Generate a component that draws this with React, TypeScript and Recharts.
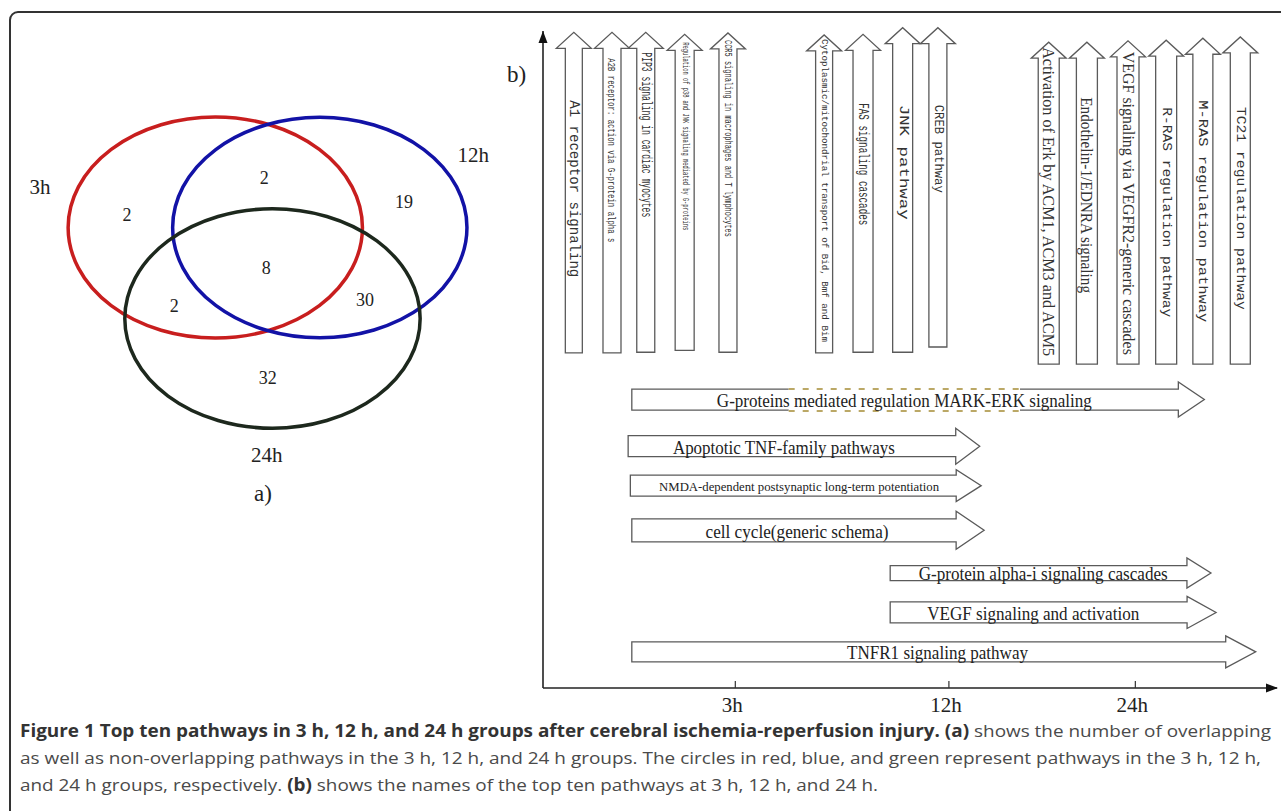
import React from 'react';
import {
  ComposedChart, ScatterChart, Scatter, XAxis, YAxis, ReferenceLine, ReferenceArea, ReferenceDot,
} from 'recharts';

const SERIF = "'Liberation Serif', 'Times New Roman', serif";
const MONO = "'Liberation Mono', monospace";

// ---- a) Venn: sets, drawn as ellipses in a 0..100 box ----
const SET_NAMES = ['3h', '12h', '24h'];
const SET_CX = [41.4, 61.5, 52.4];
const SET_CY = [56.25, 56.25, 38.75];
const SET_RX = [28.3, 28.3, 28.4];
const SET_RY = [21.25, 21.2, 21.1];
const SET_LABEL_X = [7.7, 91.0, 51.3];
const SET_LABEL_Y = [64.0, 70.2, 12.5];
const SET_COLORS = ['#c81e1e', '#1212a6', '#1d281d'];

// region counts and where they sit
const REGIONS = ['3h only', '3h+12h', '12h only', 'all', '3h+24h', '12h+24h', '24h only'];
const REGION_COUNTS = [2, 2, 19, 8, 2, 30, 32];
const REGION_X = [24.4, 50.8, 77.7, 51.2, 33.5, 70.2, 51.5];
const REGION_Y = [58.7, 65.8, 61.2, 48.5, 41.2, 42.3, 27.3];

// ---- b) time line ----
const TIME_TICKS = [26.2, 55.3, 80.7];
const TIME_LABELS = ['3h', '12h', '24h'];

// vertical arrows (pathway columns)
const COLUMN_PATHWAYS = [
  'A1 receptor signaling',
  'A2B receptor: action via G-protein alpha s',
  'PIP3 signaling in cardiac myocytes',
  'Regulation of p38 and JNK signaling mediated by G-proteins',
  'CCR5 signaling in macrophages and T lymphocytes',
  'Cytoplasmic/mitochondrial transport of Bid, Bmf and Bim',
  'FAS signaling cascades',
  'JNK pathway',
  'CREB pathway',
  'Activation of Erk by ACM1, ACM3 and ACM5',
  'Endothelin-1/EDNRA signaling',
  'VEGF signaling via VEGFR2-generic cascades',
  'R-RAS regulation pathway',
  'M-RAS regulation pathway',
  'TC21 regulation pathway',
];
const COLUMN_X = [4.2, 9.4, 14.0, 19.3, 25.2, 38.3, 43.6, 49.0, 53.8, 68.9, 74.1, 79.7, 84.9, 89.9, 95.0];
const COLUMN_FROM = [51.0, 51.0, 51.1, 51.4, 51.1, 51.0, 51.1, 51.1, 51.9, 49.3, 49.3, 49.3, 49.3, 49.3, 49.3];
const COLUMN_TO = [99.8, 99.8, 99.8, 99.5, 99.7, 99.4, 99.5, 100.5, 100.5, 98.3, 98.3, 98.5, 98.6, 98.9, 99.1];

// horizontal arrows (pathway rows)
const ROW_PATHWAYS = [
  'G-proteins mediated regulation MARK-ERK signaling',
  'Apoptotic TNF-family pathways',
  'NMDA-dependent postsynaptic long-term potentiation',
  'cell cycle(generic schema)',
  'G-protein alpha-i signaling cascades',
  'VEGF signaling and activation',
  'TNFR1 signaling pathway',
];
const ROW_FROM = [12.1, 11.6, 11.9, 12.1, 47.3, 47.3, 12.1];
const ROW_TO = [90.1, 59.5, 59.7, 60.1, 91.0, 91.7, 97.1];
const ROW_Y = [43.9, 36.8, 30.8, 24.0, 17.5, 11.5, 5.5];

// label / shape styling, kept apart from the data
const COLUMN_STYLE = [
  { font: MONO, size: 14, offset: 68, length: 177, shaft: 17 },
  { font: MONO, size: 11.5, offset: 26, length: 184, shaft: 18 },
  { font: MONO, size: 14, offset: 20, length: 165, shaft: 18 },
  { font: MONO, size: 9, offset: 8, length: 188, shaft: 19 },
  { font: MONO, size: 11, offset: 7, length: 197, shaft: 18 },
  { font: MONO, size: 9, offset: 4, length: 303, shaft: 17 },
  { font: MONO, size: 15.5, offset: 69, length: 122, shaft: 20 },
  { font: MONO, size: 12.5, offset: 77, length: 115, shaft: 20 },
  { font: MONO, size: 12.5, offset: 77, length: 88, shaft: 18 },
  { font: SERIF, size: 16.5, offset: 5, length: 309, shaft: 21 },
  { font: SERIF, size: 16, offset: 55, length: 196, shaft: 21 },
  { font: SERIF, size: 16, offset: 11, length: 303, shaft: 22 },
  { font: MONO, size: 13.5, offset: 67, length: 210, shaft: 21 },
  { font: MONO, size: 13.5, offset: 62, length: 222, shaft: 20 },
  { font: MONO, size: 13.5, offset: 70, length: 203, shaft: 20 },
];

const ROW_STYLE = [
  { size: 18, length: 375, at: 0.476, shaft: 21, head: 35, headLen: 26, dash: [0.274, 0.678] },
  { size: 19, length: 222, at: 0.443, shaft: 21, head: 36, headLen: 24 },
  { size: 12, length: 280, at: 0.481, shaft: 21, head: 32, headLen: 25 },
  { size: 19, length: 183, at: 0.469, shaft: 23, head: 38, headLen: 28 },
  { size: 18, length: 249, at: 0.477, shaft: 15, head: 30, headLen: 24 },
  { size: 19, length: 212, at: 0.439, shaft: 21, head: 32, headLen: 29 },
  { size: 18, length: 181, at: 0.49, shaft: 20, head: 32, headLen: 30 },
];

const ARROW_STROKE = '#5a5a5a';

const vennSetLabels = SET_NAMES.map((name, i) => ({ x: SET_LABEL_X[i], y: SET_LABEL_Y[i], label: name }));
const vennCounts = REGIONS.map((r, i) => ({ x: REGION_X[i], y: REGION_Y[i], label: String(REGION_COUNTS[i]), region: r }));

function VArrow(props: any) {
  const { x1, y1, y2, name, st } = props;
  const cx = x1;
  const bottom = Math.max(y1, y2);
  const tip = Math.min(y1, y2);
  const sh = st.shaft / 2;
  const hh = 17.5;
  const hl = 16;
  const d = `M${cx - sh},${bottom} L${cx - sh},${tip + hl} L${cx - hh},${tip + hl} L${cx},${tip} `
    + `L${cx + hh},${tip + hl} L${cx + sh},${tip + hl} L${cx + sh},${bottom} Z`;
  const ty = tip + st.offset;
  return (
    <g>
      <path d={d} fill="#fff" stroke={ARROW_STROKE} strokeWidth={1.3} />
      <text
        x={cx} y={ty} transform={`rotate(90 ${cx} ${ty})`}
        textAnchor="start" dominantBaseline="central"
        fontFamily={st.font} fontSize={st.size} fill="#333"
        textLength={st.length} lengthAdjust="spacingAndGlyphs"
      >
        {name}
      </text>
    </g>
  );
}

function HArrow(props: any) {
  const { x1, x2, y1, name, st } = props;
  const cy = y1;
  const sh = st.shaft / 2;
  const hh = st.head / 2;
  const bx = x2 - st.headLen;
  const d = `M${x1},${cy - sh} L${bx},${cy - sh} L${bx},${cy - hh} L${x2},${cy} L${bx},${cy + hh} `
    + `L${bx},${cy + sh} L${x1},${cy + sh} Z`;
  const tx = x1 + (x2 - x1) * st.at;
  let dash = null;
  if (st.dash) {
    const da = x1 + (x2 - x1) * st.dash[0];
    const db = x1 + (x2 - x1) * st.dash[1];
    dash = (
      <g>
        <line x1={da} x2={db} y1={cy - sh} y2={cy - sh} stroke="#fff" strokeWidth={3} />
        <line x1={da} x2={db} y1={cy + sh} y2={cy + sh} stroke="#fff" strokeWidth={3} />
        <line x1={da} x2={db} y1={cy - sh} y2={cy - sh} stroke="#bba866" strokeWidth={2} strokeDasharray="6 8" />
        <line x1={da} x2={db} y1={cy + sh + 1} y2={cy + sh + 1} stroke="#bba866" strokeWidth={2} strokeDasharray="6 8" />
      </g>
    );
  }
  return (
    <g>
      <path d={d} fill="#fff" stroke={ARROW_STROKE} strokeWidth={1.3} />
      {dash}
      <text
        x={tx} y={cy + 1} textAnchor="middle" dominantBaseline="central"
        fontFamily={SERIF} fontSize={st.size} fill="#222"
        textLength={st.length} lengthAdjust="spacingAndGlyphs"
      >
        {name}
      </text>
    </g>
  );
}

function TimeTick(props: any) {
  const { x, y, payload } = props;
  const label = TIME_LABELS[TIME_TICKS.indexOf(payload.value)];
  return (
    <g>
      <line x1={x} x2={x} y1={y - 7} y2={y} stroke="#333" strokeWidth={1.2} />
      <text x={x - 3} y={y + 24} textAnchor="middle" fontFamily={SERIF} fontSize={21} fill="#222">
        {label}
      </text>
    </g>
  );
}

function VennPanel() {
  return (
    <ScatterChart width={520} height={520} margin={{ top: 0, right: 0, bottom: 0, left: 0 }}>
      <XAxis type="number" dataKey="x" domain={[0, 100]} allowDataOverflow hide />
      <YAxis type="number" dataKey="y" domain={[0, 100]} allowDataOverflow hide />
      {SET_NAMES.map((name, i) => (
        <ReferenceArea
          key={name}
          x1={SET_CX[i] - SET_RX[i]} x2={SET_CX[i] + SET_RX[i]}
          y1={SET_CY[i] - SET_RY[i]} y2={SET_CY[i] + SET_RY[i]}
          ifOverflow="visible"
          shape={(p: any) => (
            <ellipse
              cx={p.x + p.width / 2} cy={p.y + p.height / 2}
              rx={p.width / 2} ry={p.height / 2}
              fill="none" stroke={SET_COLORS[i]} strokeWidth={3.5}
            />
          )}
        />
      ))}
      <Scatter
        data={vennCounts}
        isAnimationActive={false}
        shape={(p: any) => (
          <text x={p.cx} y={p.cy} textAnchor="middle" dominantBaseline="central" fontFamily={SERIF} fontSize={18} fill="#222">
            {p.payload.label}
          </text>
        )}
      />
      <Scatter
        data={vennSetLabels}
        isAnimationActive={false}
        shape={(p: any) => (
          <text x={p.cx} y={p.cy} textAnchor="middle" dominantBaseline="central" fontFamily={SERIF} fontSize={21} fill="#222">
            {p.payload.label}
          </text>
        )}
      />
    </ScatterChart>
  );
}

function TimelinePanel() {
  return (
    <ComposedChart width={781} height={730} margin={{ top: 31, right: 4, bottom: 12, left: 3 }}>
      <XAxis
        type="number" dataKey="x" domain={[0, 100]} allowDataOverflow
        ticks={TIME_TICKS} interval={0} tick={(p: any) => <TimeTick {...p} />}
        tickLine={false} tickSize={0} tickMargin={0} height={30}
        axisLine={{ stroke: '#222', strokeWidth: 1.6 }}
      />
      <YAxis
        type="number" dataKey="y" domain={[0, 100]} allowDataOverflow width={40}
        tick={false} tickLine={false} axisLine={{ stroke: '#222', strokeWidth: 1.6 }}
      />
      {COLUMN_PATHWAYS.map((name, i) => (
        <ReferenceLine
          key={name}
          segment={[{ x: COLUMN_X[i], y: COLUMN_FROM[i] }, { x: COLUMN_X[i], y: COLUMN_TO[i] }]}
          ifOverflow="visible"
          shape={(p: any) => <VArrow {...p} name={name} st={COLUMN_STYLE[i]} />}
        />
      ))}
      {ROW_PATHWAYS.map((name, i) => (
        <ReferenceLine
          key={name}
          segment={[{ x: ROW_FROM[i], y: ROW_Y[i] }, { x: ROW_TO[i], y: ROW_Y[i] }]}
          ifOverflow="visible"
          shape={(p: any) => <HArrow {...p} name={name} st={ROW_STYLE[i]} />}
        />
      ))}
      <ReferenceDot
        x={100} y={0} ifOverflow="visible"
        shape={(p: any) => (
          <path d={`M${p.cx + 1},${p.cy} L${p.cx - 11},${p.cy - 4.5} L${p.cx - 11},${p.cy + 4.5} Z`} fill="#111" />
        )}
      />
      <ReferenceDot
        x={0} y={100} ifOverflow="visible"
        shape={(p: any) => (
          <path d={`M${p.cx},${p.cy} L${p.cx - 4.5},${p.cy + 12} L${p.cx + 4.5},${p.cy + 12} Z`} fill="#111" />
        )}
      />
    </ComposedChart>
  );
}

export default function App() {
  return (
    <div style={{ position: 'absolute', left: 0, top: 0, width: 1281, height: 811, background: '#fff', overflow: 'hidden' }}>
      <div
        style={{
          position: 'absolute', left: 9, top: 11, width: 1300, height: 840,
          border: '2px solid #333', borderRadius: 9, boxSizing: 'border-box',
        }}
      />
      <div style={{ position: 'absolute', left: 0, top: 0 }}>
        <VennPanel />
      </div>
      <span style={{ position: 'absolute', left: 254, top: 482, fontFamily: SERIF, fontSize: 23, lineHeight: 1, color: '#222' }}>a)</span>
      <div style={{ position: 'absolute', left: 500, top: 0 }}>
        <TimelinePanel />
      </div>
      <span style={{ position: 'absolute', left: 507, top: 63, fontFamily: SERIF, fontSize: 23, lineHeight: 1, color: '#222' }}>b)</span>
      <svg width={1281} height={100} style={{ position: 'absolute', left: 0, top: 711 }}>
        <text x={20} y={26} fontFamily="'Open Sans', sans-serif" fontSize={17} fill="#4a4a4a" textLength={1251} lengthAdjust="spacingAndGlyphs">
          <tspan fontWeight={700} fill="#333">Figure 1 Top ten pathways in 3 h, 12 h, and 24 h groups after cerebral ischemia-reperfusion injury. (a)</tspan>
          <tspan> shows the number of overlapping</tspan>
        </text>
        <text x={20} y={53} fontFamily="'Open Sans', sans-serif" fontSize={17} fill="#4a4a4a" textLength={1241} lengthAdjust="spacingAndGlyphs">
          as well as non-overlapping pathways in the 3 h, 12 h, and 24 h groups. The circles in red, blue, and green represent pathways in the 3 h, 12 h,
        </text>
        <text x={20} y={80} fontFamily="'Open Sans', sans-serif" fontSize={17} fill="#4a4a4a" textLength={858} lengthAdjust="spacingAndGlyphs">
          <tspan>and 24 h groups, respectively. </tspan>
          <tspan fontWeight={700} fill="#333">(b)</tspan>
          <tspan> shows the names of the top ten pathways at 3 h, 12 h, and 24 h.</tspan>
        </text>
      </svg>
    </div>
  );
}
